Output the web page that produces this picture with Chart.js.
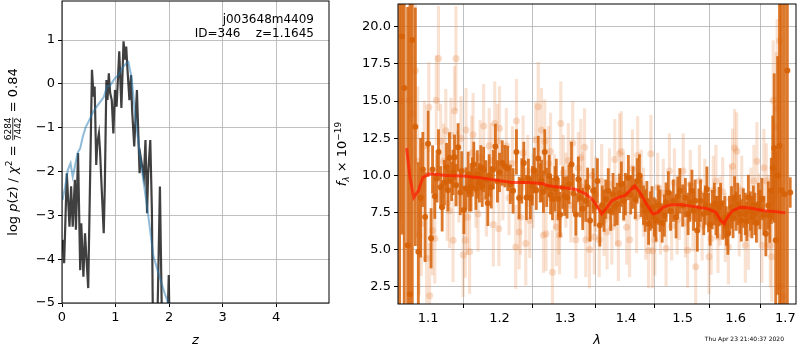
<!DOCTYPE html>
<html>
<head>
<meta charset="utf-8">
<script src="https://cdn.jsdelivr.net/npm/chart.js@4/dist/chart.umd.min.js"></script>
<style>
  html, body { margin: 0; padding: 0; background: #fff; }
  #wrap { position: relative; width: 800px; height: 350px; }
  #pz { position: absolute; left: 0; top: 0; }
  #spec { position: absolute; left: 330px; top: 0; }
</style>
</head>
<body>
<div id="wrap">
  <canvas id="pz" width="330" height="350"></canvas>
  <canvas id="spec" width="470" height="350"></canvas>
</div>
<script>
"use strict";

// ---- left panel: log p(z) and chi2 curve ----
var zGrid = [0.01, 0.04, 0.09, 0.14, 0.17, 0.20, 0.24, 0.26, 0.30, 0.34,
  0.36, 0.40, 0.43, 0.49, 0.56, 0.59, 0.61, 0.64, 0.66, 0.69,
  0.71, 0.74, 0.78, 0.80, 0.83, 0.85, 0.875, 0.90, 0.93, 0.96,
  0.99, 1.02, 1.07, 1.11, 1.15, 1.18, 1.20, 1.22, 1.26, 1.29,
  1.31, 1.35, 1.40, 1.45, 1.47, 1.53, 1.56, 1.59, 1.61, 1.65,
  1.68, 1.70, 1.78, 1.83, 1.87, 1.97, 1.995, 2.01];
var logPz = [-3.56, -4.09, -2.04, -3.26, -2.34, -3.26, -2.19, -3.33, -1.58, -4.25,
  -3.18, -4.40, -3.41, -4.66, 0.32, -0.29, -0.06, -1.85, -1.35, -1.13,
  -1.51, -2.34, -3.41, -2.34, 0.09, -0.37, 0.24, -0.21, -0.37, -1.13,
  -0.14, -0.52, 0.74, -0.55, 0.97, 0.55, 0.85, 0.40, -0.37, 0.20,
  -0.59, -1.43, -0.14, -2.04, -1.66, -2.12, -1.28, -2.95, -2.04, -1.28,
  -2.88, -5.6, -5.6, -2.34, -5.6, -5.6, -4.36, -5.6];

var zChi = [0.01, 0.06, 0.11, 0.16, 0.20, 0.24, 0.29, 0.34, 0.39, 0.44,
  0.50, 0.59, 0.69, 0.78, 0.84, 0.90, 0.99, 1.06, 1.125, 1.20,
  1.24, 1.30, 1.37, 1.46, 1.52, 1.59, 1.71, 1.84, 1.92, 2.0];
var chiCurve = [-2.65, -2.34, -1.96, -1.81, -2.12, -1.89, -1.58, -1.47, -1.2, -1.0,
  -0.85, -0.62, -0.45, -0.3, -0.06, -0.04, 0.13, 0.21, 0.36, 0.47,
  0.5, 0.15, -0.75, -1.66, -2.2, -2.8, -3.94, -4.47, -4.78, -5.05];

var zTicks = [0, 1, 2, 3, 4];
var pzTicks = [-5, -4, -3, -2, -1, 0, 1];

// ---- right panel: spectrum ----
var darkWave = [1.0625, 1.0656, 1.0685, 1.073, 1.076, 1.079, 1.083, 1.087, 1.090, 1.093,
  1.096, 1.100, 1.104, 1.106, 1.109, 1.112, 1.114, 1.117, 1.119, 1.122,
  1.125, 1.127, 1.129, 1.132, 1.134, 1.136, 1.138, 1.141, 1.144, 1.146,
  1.149, 1.152, 1.155, 1.157, 1.159, 1.161, 1.163, 1.166, 1.168, 1.171,
  1.173, 1.175, 1.177, 1.180, 1.183, 1.185, 1.188, 1.191, 1.194, 1.197,
  1.200, 1.204, 1.208, 1.212, 1.216, 1.220, 1.225, 1.229, 1.233, 1.236,
  1.240, 1.243, 1.246, 1.249, 1.252, 1.255, 1.258, 1.261, 1.263, 1.266,
  1.268, 1.271, 1.275, 1.277, 1.280, 1.284, 1.286, 1.289, 1.292, 1.296,
  1.299, 1.303, 1.306, 1.310, 1.313, 1.317, 1.321, 1.324, 1.328, 1.333,
  1.336, 1.340, 1.345, 1.348, 1.352, 1.356, 1.360, 1.363, 1.366, 1.370,
  1.374, 1.378, 1.381, 1.385, 1.389, 1.392, 1.396, 1.399, 1.404, 1.408,
  1.412, 1.416, 1.419, 1.423, 1.426, 1.430, 1.433, 1.436, 1.439, 1.442,
  1.445, 1.449, 1.452, 1.456, 1.459, 1.463, 1.467, 1.470, 1.474, 1.478,
  1.483, 1.488, 1.491, 1.495, 1.500, 1.505, 1.510, 1.513, 1.517, 1.520,
  1.523, 1.527, 1.530, 1.533, 1.539, 1.542, 1.545, 1.548, 1.551, 1.555,
  1.559, 1.562, 1.565, 1.568, 1.571, 1.575, 1.579, 1.582, 1.585, 1.588,
  1.592, 1.595, 1.598, 1.601, 1.604, 1.608, 1.611, 1.615, 1.619, 1.622,
  1.625, 1.629, 1.632, 1.635, 1.638, 1.641, 1.645, 1.648, 1.652, 1.656,
  1.660, 1.665, 1.668, 1.671, 1.674, 1.677, 1.680, 1.684, 1.688, 1.692,
  1.698, 1.704, 1.710];
var darkFlux = [24.0, 19.34, 15.88, 5.3, 2.0, 19.1, 13.27, 4.86, 8.5, 10.4,
  7.2, 12.13, 5.77, 10.4, 8.6, 9.8, 11.58, 9.2, 7.85, 9.52,
  10.56, 9.0, 11.18, 9.6, 10.2, 11.22, 9.34, 11.89, 8.85, 10.3,
  7.68, 9.12, 10.07, 8.9, 9.2, 9.9, 10.74, 9.1, 10.07, 9.5,
  10.51, 9.3, 10.4, 9.7, 8.12, 10.0, 9.2, 10.4, 11.95, 9.6,
  10.2, 10.84, 10.62, 10.47, 9.4, 8.96, 11.58, 8.48, 9.63, 10.84,
  8.52, 9.8, 8.48, 9.3, 10.34, 9.0, 11.14, 9.5, 9.63, 8.9,
  11.58, 9.2, 9.96, 8.7, 8.41, 9.1, 9.8, 8.41, 7.37, 9.18,
  8.6, 8.52, 9.4, 10.74, 8.8, 7.37, 9.74, 8.5, 7.75, 8.3,
  9.2, 6.97, 8.96, 7.9, 9.63, 6.64, 8.0, 7.63, 8.4, 8.96,
  7.6, 8.74, 7.9, 8.08, 8.8, 9.41, 8.3, 8.74, 9.85, 8.7,
  9.18, 8.4, 9.63, 10.0, 8.63, 8.0, 7.63, 8.3, 6.75, 7.6,
  7.85, 7.2, 6.97, 8.0, 7.63, 6.8, 7.3, 8.2, 8.85, 7.6,
  8.3, 7.19, 8.6, 8.96, 7.97, 8.5, 7.41, 8.2, 8.96, 7.6,
  8.3, 6.3, 7.8, 8.3, 7.41, 8.0, 9.07, 7.5, 6.7, 7.7,
  8.08, 7.3, 7.19, 7.9, 8.08, 7.0, 7.19, 6.6, 6.08, 7.3,
  7.85, 7.1, 8.52, 7.6, 8.08, 7.4, 6.97, 7.8, 7.41, 6.9,
  8.52, 7.6, 7.19, 8.0, 7.41, 6.8, 8.08, 7.7, 8.41, 7.3,
  6.08, 7.97, 7.3, 8.96, 10.5, 11.84, 5.64, 10.0, 12.0, 9.0,
  8.74, 17.05, 8.85];
var darkErr = [23, 13.3, 18, 16, 22, 18, 8, 6, 4, 2.5,
  3, 2.2, 2.0, 1.6, 1.5, 1.6, 1.5, 1.4, 1.6, 1.5,
  1.6, 1.4, 1.7, 1.3, 1.5, 1.5, 1.4, 1.6, 1.5, 1.3,
  1.6, 1.4, 1.5, 1.3, 1.6, 1.3, 1.5, 1.4, 1.6, 1.3,
  1.5, 1.4, 1.5, 1.3, 1.5, 1.4, 1.4, 1.3, 1.5, 1.4,
  1.3, 1.5, 1.4, 1.5, 1.3, 1.5, 1.5, 1.4, 1.5, 1.4,
  1.5, 1.3, 1.4, 1.3, 1.5, 1.3, 1.5, 1.3, 1.4, 1.4,
  1.5, 1.3, 1.4, 1.3, 1.4, 1.5, 1.3, 1.4, 1.5, 1.4,
  1.3, 1.4, 1.3, 1.5, 1.3, 1.4, 1.5, 1.3, 1.4, 1.4,
  1.3, 1.4, 1.5, 1.3, 1.5, 1.4, 1.3, 1.4, 1.3, 1.5,
  1.3, 1.4, 1.3, 1.4, 1.3, 1.5, 1.3, 1.4, 1.5, 1.3,
  1.4, 1.3, 1.5, 1.4, 1.4, 1.3, 1.4, 1.3, 1.4, 1.3,
  1.4, 1.3, 1.4, 1.3, 1.4, 1.3, 1.4, 1.3, 1.4, 1.3,
  1.4, 1.4, 1.3, 1.5, 1.4, 1.3, 1.4, 1.3, 1.4, 1.3,
  1.4, 1.4, 1.3, 1.4, 1.4, 1.3, 1.5, 1.3, 1.4, 1.3,
  1.4, 1.3, 1.4, 1.3, 1.4, 1.3, 1.4, 1.3, 1.4, 1.3,
  1.4, 1.3, 1.4, 1.3, 1.4, 1.3, 1.4, 1.3, 1.4, 1.3,
  1.5, 1.3, 1.4, 1.3, 1.4, 1.3, 1.4, 1.3, 1.4, 1.3,
  1.5, 1.6, 1.8, 2.2, 3.5, 5.0, 6.0, 8.0, 12, 16,
  16, 17, 1.0];

var lightWave = [1.064, 1.075, 1.080, 1.083, 1.086, 1.088, 1.091, 1.095, 1.098, 1.101,
  1.102, 1.106, 1.109, 1.111, 1.114, 1.117, 1.121, 1.124, 1.126, 1.129,
  1.131, 1.134, 1.136, 1.138, 1.140, 1.142, 1.145, 1.148, 1.151, 1.152,
  1.154, 1.157, 1.160, 1.162, 1.166, 1.169, 1.172, 1.177, 1.181, 1.185,
  1.188, 1.191, 1.193, 1.197, 1.199, 1.200, 1.205, 1.210, 1.214, 1.219,
  1.224, 1.225, 1.229, 1.231, 1.235, 1.239, 1.242, 1.245, 1.250, 1.254,
  1.258, 1.263, 1.266, 1.268, 1.270, 1.274, 1.277, 1.280, 1.283, 1.286,
  1.290, 1.291, 1.293, 1.297, 1.301, 1.305, 1.309, 1.312, 1.317, 1.321,
  1.325, 1.328, 1.331, 1.333, 1.336, 1.339, 1.343, 1.347, 1.349, 1.355,
  1.359, 1.363, 1.368, 1.372, 1.376, 1.381, 1.384, 1.387, 1.389, 1.392,
  1.396, 1.401, 1.406, 1.411, 1.418, 1.420, 1.426, 1.430, 1.434, 1.439,
  1.443, 1.446, 1.450, 1.455, 1.460, 1.465, 1.470, 1.476, 1.480, 1.485,
  1.490, 1.494, 1.501, 1.505, 1.509, 1.514, 1.519, 1.524, 1.531, 1.536,
  1.541, 1.549, 1.553, 1.557, 1.562, 1.566, 1.570, 1.575, 1.580, 1.586,
  1.590, 1.594, 1.598, 1.602, 1.607, 1.612, 1.619, 1.625, 1.630, 1.636,
  1.642, 1.647, 1.652, 1.656, 1.661, 1.665, 1.669, 1.672, 1.675, 1.681,
  1.683, 1.688, 1.689, 1.695];
var lightFlux = [15.0, 15.06, 14.17, 17.05, 10.96, 5.97, 6.75, 12.0, 4.42, 14.59,
  1.91, 6.3, 5.75, 15.06, 17.87, 12.3, 10.96, 13.0, 8.12, 7.63,
  12.7, 5.64, 14.33, 17.87, 10.5, 9.34, 12.5, 4.64, 5.64, 13.06,
  7.19, 4.86, 11.5, 12.73, 9.0, 7.41, 11.2, 13.33, 8.41, 12.0,
  11.0, 6.7, 13.5, 12.29, 6.42, 13.17, 9.5, 12.0, 8.5, 10.8,
  5.19, 13.66, 6.19, 7.19, 11.5, 5.42, 10.3, 6.97, 8.96, 12.4,
  14.61, 13.06, 5.97, 12.29, 6.08, 10.8, 11.6, 3.49, 8.9, 6.52,
  7.19, 5.97, 13.5, 10.2, 9.0, 11.0, 8.0, 12.18, 5.68, 10.5,
  11.18, 9.2, 11.89, 5.68, 8.0, 5.02, 10.0, 5.86, 8.74, 5.68,
  9.6, 7.0, 6.19, 9.4, 6.52, 11.07, 7.6, 5.42, 11.45, 11.6,
  9.2, 6.52, 5.68, 10.47, 7.19, 11.36, 9.4, 8.2, 6.75, 4.93,
  11.45, 4.93, 5.68, 9.2, 7.0, 8.8, 5.08, 10.3, 6.6, 9.5,
  7.0, 8.08, 10.3, 6.8, 4.97, 9.4, 7.2, 3.86, 9.63, 6.6,
  8.8, 4.53, 5.75, 9.0, 9.63, 5.86, 7.6, 8.9, 6.5, 5.19,
  8.4, 10.62, 11.84, 11.62, 6.97, 9.0, 5.3, 6.08, 8.2, 9.63,
  10.96, 7.8, 5.3, 10.51, 9.63, 7.5, 5.3, 4.53, 15.06, 13.28,
  14.5, 19.05, 2.53, 1.87];
var lightErr = [8, 6, 5, 4.5, 5, 4, 3.5, 3, 3, 3,
  3.5, 3, 3, 3, 3.5, 2.5, 2.5, 2.8, 2.5, 2.5,
  2.5, 2.8, 3, 3.5, 2.5, 2.5, 2.8, 2.8, 2.5, 2.8,
  2.5, 2.8, 2.5, 2.8, 2.5, 2.5, 2.5, 2.8, 2.5, 2.5,
  2.5, 2.8, 2.8, 2.5, 2.5, 2.8, 2.5, 2.5, 2.5, 2.5,
  2.8, 2.8, 2.5, 2.5, 2.5, 2.8, 2.4, 2.5, 2.5, 2.5,
  3, 2.8, 2.5, 2.8, 2.5, 2.5, 2.6, 2.8, 2.5, 2.6,
  2.5, 2.6, 2.8, 2.5, 2.5, 2.5, 2.5, 2.8, 2.6, 2.4,
  2.6, 2.4, 2.6, 2.5, 2.4, 2.6, 2.4, 2.5, 2.5, 2.5,
  2.5, 2.4, 2.5, 2.4, 2.5, 2.7, 2.3, 2.5, 2.7, 2.7,
  2.3, 2.5, 2.5, 2.6, 2.4, 2.6, 2.3, 2.3, 2.4, 2.5,
  2.6, 2.5, 2.4, 2.3, 2.3, 2.3, 2.5, 2.5, 2.3, 2.3,
  2.3, 2.4, 2.5, 2.3, 2.5, 2.3, 2.3, 2.6, 2.4, 2.3,
  2.3, 2.5, 2.4, 2.3, 2.4, 2.4, 2.3, 2.3, 2.3, 2.5,
  2.3, 2.5, 2.6, 2.6, 2.4, 2.3, 2.5, 2.4, 2.3, 2.4,
  2.6, 2.3, 2.5, 2.6, 2.5, 2.5, 2.8, 3, 4, 5,
  6, 8, 8, 10];

var modelWave = [1.0716, 1.076, 1.081, 1.087, 1.093, 1.102, 1.125, 1.148, 1.171, 1.195,
  1.219, 1.244, 1.264, 1.274, 1.295, 1.316, 1.332, 1.343, 1.351, 1.359,
  1.368, 1.376, 1.387, 1.398, 1.406, 1.415, 1.424, 1.435, 1.447, 1.455,
  1.464, 1.479, 1.497, 1.521, 1.547, 1.562, 1.571, 1.578, 1.584, 1.594,
  1.609, 1.628, 1.656, 1.682, 1.700];
var modelFlux = [11.84, 9.85, 8.52, 8.96, 9.85, 10.11, 10.0, 9.96, 9.85, 9.67,
  9.52, 9.52, 9.45, 9.3, 9.18, 9.07, 8.78, 8.41, 7.97, 7.41,
  7.85, 8.3, 8.52, 8.63, 8.96, 9.3, 8.85, 8.08, 7.41, 7.5,
  7.85, 8.03, 8.03, 7.9, 7.75, 7.52, 6.97, 6.75, 7.19, 7.63,
  7.85, 7.8, 7.63, 7.55, 7.48];

var waveTicks = [1.1, 1.2, 1.3, 1.4, 1.5, 1.6, 1.7];
var fluxTicks = [2.5, 5.0, 7.5, 10.0, 12.5, 15.0, 17.5, 20.0];

var objName = "j003648m4409";
var objInfo = "ID=346    z=1.1645";
var stamp = "Thu Apr 23 21:40:37 2020";

var FAM = "DejaVu Sans";
var N13 = "13px " + FAM, I13 = "italic 13px " + FAM;
var S9 = "9px " + FAM, IS9 = "italic 9px " + FAM;

var pzLabel = [
  { text: "log ", font: N13 },
  { text: "p", font: I13 },
  { text: "(", font: N13 },
  { text: "z", font: I13 },
  { text: ") / ", font: N13 },
  { text: "\u03c7", font: I13 },
  { text: "2", font: S9, dy: -5 },
  { text: " = ", font: N13 },
  { frac: ["6284", "7442"], font: S9 },
  { text: " = 0.84", font: N13 }
];
var fluxLabel = [
  { text: "f", font: I13 },
  { text: "\u03bb", font: IS9, dy: 3 },
  { text: " \u00d7 10", font: N13 },
  { text: "\u221219", font: S9, dy: -5 }
];

function pts(xs, ys) {
  return xs.map(function (x, i) { return { x: x, y: ys[i] }; });
}
function errBars(xs, ys, es) {
  return xs.map(function (x, i) { return { x: x, y: [ys[i] - es[i], ys[i] + es[i]] }; });
}
function minus(v) {
  return v < 0 ? "\u2212" + Math.abs(v) : String(v);
}

// vertical label built from pieces (sub/superscripts, a small fraction)
function drawVertical(ctx, cx, cy, parts) {
  ctx.save();
  ctx.translate(cx, cy);
  ctx.rotate(-Math.PI / 2);
  ctx.fillStyle = "#000";
  ctx.textBaseline = "alphabetic";
  var widths = parts.map(function (p) {
    ctx.font = p.font;
    if (p.frac) {
      return Math.max(ctx.measureText(p.frac[0]).width, ctx.measureText(p.frac[1]).width) + 2;
    }
    return ctx.measureText(p.text).width;
  });
  var total = widths.reduce(function (a, b) { return a + b; }, 0);
  var x = -total / 2;
  parts.forEach(function (p, i) {
    ctx.font = p.font;
    if (p.frac) {
      var w = widths[i];
      ctx.textAlign = "center";
      ctx.fillText(p.frac[0], x + w / 2, -1);
      ctx.fillText(p.frac[1], x + w / 2, 8.8);
      ctx.fillRect(x + 1, 0.4, w - 2, 0.8);
      ctx.textAlign = "left";
    } else {
      ctx.textAlign = "left";
      ctx.fillText(p.text, x, 4.5 + (p.dy || 0));
    }
    x += widths[i];
  });
  ctx.restore();
}

var boxPlugin = {
  id: "box",
  afterDatasetsDraw: function (chart) {
    var a = chart.chartArea, ctx = chart.ctx;
    ctx.save();
    ctx.strokeStyle = "#000";
    ctx.lineWidth = 1;
    ctx.strokeRect(a.left, a.top, a.right - a.left, a.bottom - a.top);
    ctx.restore();
  }
};

function scaleOpts(type, min, max, list, fmt, fit, title) {
  var o = {
    type: type,
    min: min,
    max: max,
    bounds: "data",
    afterBuildTicks: function (scale) {
      scale.ticks = list.map(function (v) { return { value: v }; });
    },
    afterFit: fit,
    grid: { color: "#b0b0b0", lineWidth: 0.8, tickColor: "#000", tickLength: 4, tickWidth: 1 },
    border: { display: false },
    ticks: {
      color: "#000",
      font: { family: FAM, size: 13 },
      padding: 3,
      autoSkip: false,
      maxRotation: 0,
      callback: fmt
    }
  };
  if (title) {
    o.title = { display: true, text: title, color: "#000",
      font: { family: FAM, size: 13, style: "italic" }, padding: { top: 0, bottom: 2 } };
  }
  return o;
}

function fitX(h) {
  return function (s) { s.height = h; s.paddingLeft = 0; s.paddingRight = 0; };
}
function fitY(w) {
  return function (s) { s.width = w; s.paddingTop = 0; s.paddingBottom = 0; };
}

// left panel
new Chart(document.getElementById("pz"), {
  type: "scatter",
  data: {
    datasets: [
      {
        data: pts(zChi, chiCurve), showLine: true, pointRadius: 0,
        borderColor: "rgba(31,119,180,0.5)", borderWidth: 2, clip: 0, order: 1
      },
      {
        data: pts(zGrid, logPz), showLine: true, pointRadius: 0,
        borderColor: "rgba(0,0,0,0.75)", borderWidth: 2.2, clip: 0, order: 2
      }
    ]
  },
  options: {
    responsive: false,
    animation: false,
    devicePixelRatio: 1,
    layout: { padding: { top: 1, right: 1, left: 0, bottom: 0 } },
    plugins: { legend: { display: false }, tooltip: { enabled: false } },
    scales: {
      x: scaleOpts("linear", 0, 4.99, zTicks, function (v) { return String(v); }, fitX(47), "z"),
      y: scaleOpts("linear", -5, 1.89, pzTicks, minus, fitY(62))
    }
  },
  plugins: [boxPlugin, {
    id: "pzText",
    afterDraw: function (chart) {
      var ctx = chart.ctx, a = chart.chartArea;
      ctx.save();
      ctx.fillStyle = "#000";
      ctx.font = "12px " + FAM;
      ctx.textAlign = "right";
      ctx.textBaseline = "middle";
      ctx.fillText(objName, a.right - 15, a.top + 19);
      ctx.fillText(objInfo, a.right - 15, a.top + 33);
      ctx.restore();
      drawVertical(ctx, 12, (a.top + a.bottom) / 2, pzLabel);
    }
  }]
});

// right panel
new Chart(document.getElementById("spec"), {
  type: "scatter",
  data: {
    datasets: [
      {
        type: "line", data: pts(modelWave, modelFlux), pointRadius: 0,
        borderColor: "rgba(255,25,0,0.7)", borderWidth: 3, tension: 0, clip: 0, order: 1
      },
      {
        type: "scatter", data: pts(darkWave, darkFlux), pointRadius: 3, borderWidth: 0,
        backgroundColor: "rgba(214,98,8,0.92)", clip: 0, order: 2
      },
      {
        type: "bar", data: errBars(darkWave, darkFlux, darkErr), barThickness: 2.2, grouped: false,
        backgroundColor: "rgba(214,98,8,0.85)", borderWidth: 0, clip: 0, order: 3
      },
      {
        type: "scatter", data: pts(lightWave, lightFlux), pointRadius: 3.5, borderWidth: 0,
        backgroundColor: "rgba(232,140,75,0.3)", clip: 0, order: 4
      },
      {
        type: "bar", data: errBars(lightWave, lightFlux, lightErr), barThickness: 2.5, grouped: false,
        backgroundColor: "rgba(232,140,75,0.25)", borderWidth: 0, clip: 0, order: 5
      }
    ]
  },
  options: {
    responsive: false,
    animation: false,
    devicePixelRatio: 1,
    layout: { padding: { top: 1, right: 1, left: 0, bottom: 0 } },
    plugins: { legend: { display: false }, tooltip: { enabled: false } },
    scales: {
      x: Object.assign(scaleOpts("logarithmic", 1.0604, 1.7221, waveTicks,
        function (v) { return Number(v).toFixed(1); }, fitX(46), "\u03bb"), { offset: false }),
      y: scaleOpts("linear", 1.35, 21.53, fluxTicks,
        function (v) { return Number(v).toFixed(1); }, fitY(68))
    }
  },
  plugins: [boxPlugin, {
    id: "specText",
    afterDraw: function (chart) {
      var ctx = chart.ctx, a = chart.chartArea;
      drawVertical(ctx, 11, (a.top + a.bottom) / 2, fluxLabel);
      ctx.save();
      ctx.fillStyle = "#000";
      ctx.font = "6px " + FAM;
      ctx.textAlign = "right";
      ctx.textBaseline = "middle";
      ctx.fillText(stamp, a.right - 12, 339);
      ctx.restore();
    }
  }]
});
</script>
</body>
</html>
